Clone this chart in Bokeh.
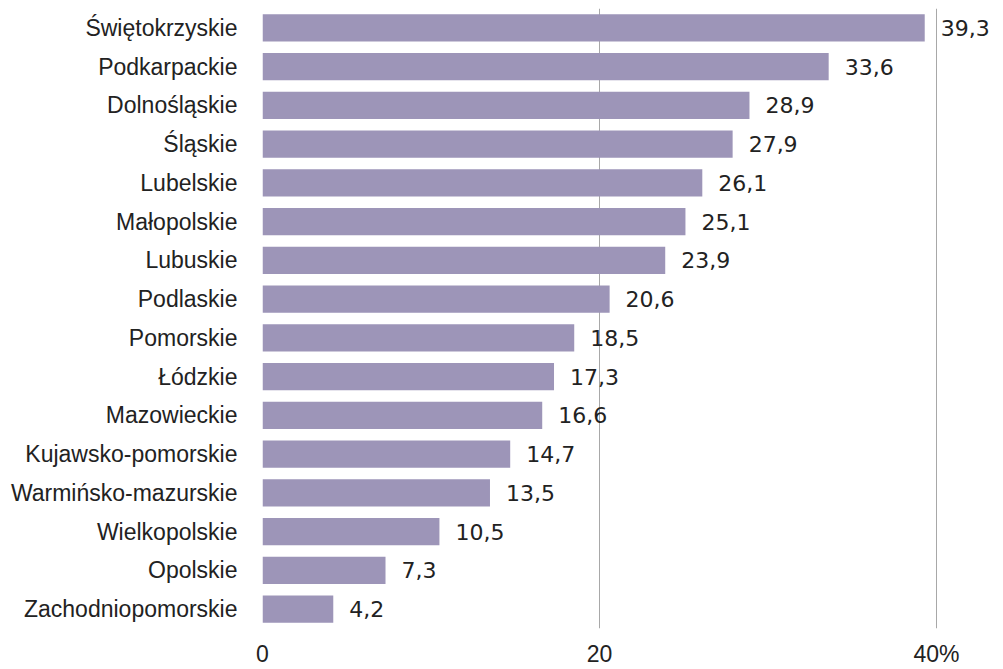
from bokeh.plotting import figure
from bokeh.models import ColumnDataSource, FixedTicker, Range1d
from bokeh.core.properties import value
from bokeh.embed import file_html
from bokeh.resources import INLINE

regions = ["Świętokrzyskie", "Podkarpackie", "Dolnośląskie", "Śląskie", "Lubelskie",
           "Małopolskie", "Lubuskie", "Podlaskie", "Pomorskie", "Łódzkie", "Mazowieckie",
           "Kujawsko-pomorskie", "Warmińsko-mazurskie", "Wielkopolskie", "Opolskie",
           "Zachodniopomorskie"]
values = [39.3, 33.6, 28.9, 27.9, 26.1, 25.1, 23.9, 20.6, 18.5, 17.3, 16.6, 14.7,
          13.5, 10.5, 7.3, 4.2]
x_ticks = [0, 20, 40]
x_tick_labels = ["0", "20", "40%"]

labels = [f"{v:.1f}".replace(".", ",") for v in values]
src = ColumnDataSource(dict(region=regions, val=values, lab=labels))

p = figure(width=995, height=669, output_backend="svg", toolbar_location=None,
           y_range=list(reversed(regions)), x_range=Range1d(0, 43.5),
           min_border_left=262, min_border_right=0, min_border_top=8, min_border_bottom=40)
p.outline_line_color = None
p.background_fill_color = "white"
p.border_fill_color = "white"

p.hbar(y="region", right="val", left=0, height=0.7, source=src,
       fill_color="#9d95b8", line_color=None)

p.text(x="val", y="region", text="lab", source=src, x_offset=16,
       text_align="left", text_baseline="middle",
       text_font=value("DejaVu Sans"), text_font_size="22px", text_color="#222222")

# grid
p.ygrid.grid_line_color = None
p.xgrid.grid_line_color = "#a8a8a8"
p.xgrid.grid_line_width = 1
p.xgrid.ticker = FixedTicker(ticks=x_ticks)

xa = p.xaxis[0]
xa.ticker = FixedTicker(ticks=x_ticks)
xa.major_label_overrides = {t: l for t, l in zip(x_ticks, x_tick_labels)}
xa.axis_line_color = None
xa.major_tick_line_color = None
xa.minor_tick_line_color = None
xa.major_tick_out = 0
xa.major_tick_in = 0
xa.minor_tick_out = 0
xa.major_label_text_font = "Liberation Sans"
xa.major_label_text_font_size = "23px"
xa.major_label_text_color = "#222222"
xa.major_label_standoff = 12

ya = p.yaxis[0]
ya.axis_line_color = None
ya.major_tick_line_color = None
ya.minor_tick_line_color = None
ya.major_tick_out = 0
ya.major_tick_in = 0
ya.minor_tick_out = 0
ya.major_label_text_font = "Liberation Sans"
ya.major_label_text_font_size = "23px"
ya.major_label_text_color = "#222222"
ya.major_label_standoff = 25

open("out.html", "w").write(file_html(p, INLINE))
